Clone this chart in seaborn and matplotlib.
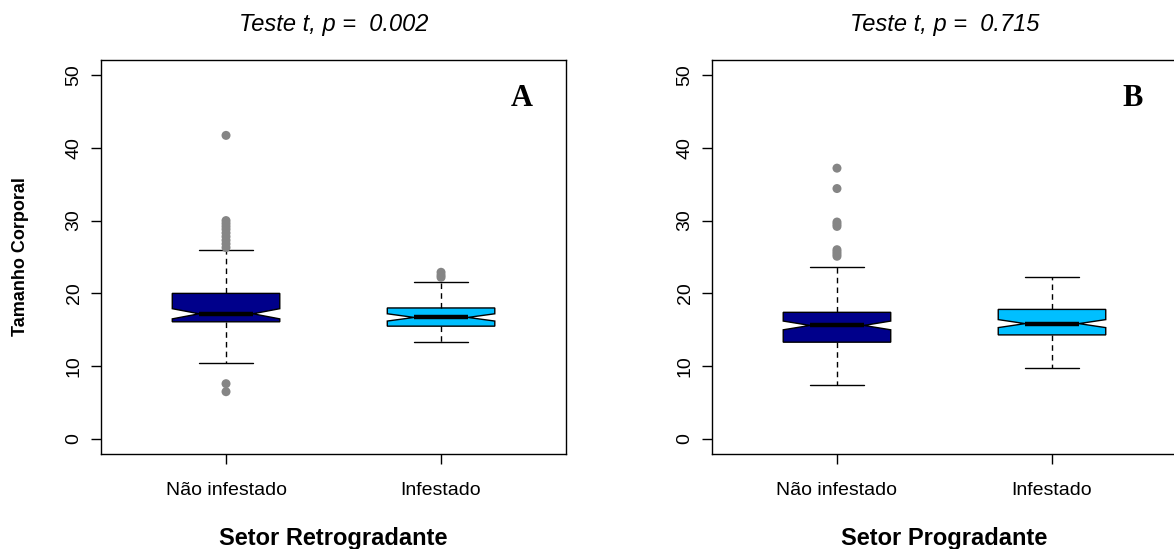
import matplotlib
matplotlib.use("Agg")
import matplotlib.pyplot as plt
import seaborn as sns
import pandas as pd

groups = ["Não infestado", "Infestado"]
box_colors = ["#00008B", "#00BFFF"]

# Setor Retrogradante (painel A)
retro_whislo = [10.5, 13.3]
retro_q1 = [16.1, 15.5]
retro_med = [17.2, 16.7]
retro_q3 = [20.0, 18.0]
retro_whishi = [25.9, 21.6]
retro_cilo = [16.5, 16.2]
retro_cihi = [17.9, 17.2]
retro_out_nao = [41.7, 30.0, 29.6, 29.2, 28.8, 28.3, 27.8, 27.3, 26.8, 26.3, 7.6, 6.5]
retro_out_inf = [22.2, 22.5, 22.9]

# Setor Progradante (painel B)
prog_whislo = [7.4, 9.8]
prog_q1 = [13.3, 14.3]
prog_med = [15.6, 15.85]
prog_q3 = [17.4, 17.8]
prog_whishi = [23.6, 22.3]
prog_cilo = [15.0, 15.3]
prog_cihi = [16.2, 16.4]
prog_out_nao = [37.2, 34.4, 29.8, 29.5, 29.2, 26.0, 25.7, 25.4, 25.1]
prog_out_inf = []

titles = ["Teste t, p =  0.002", "Teste t, p =  0.715"]
xlabels = ["Setor Retrogradante", "Setor Progradante"]
letters = ["A", "B"]

sns.set_theme(style="ticks")
plt.rcParams["font.family"] = ["Liberation Sans", "DejaVu Sans"]
plt.rcParams["text.color"] = "black"
plt.rcParams["axes.labelcolor"] = "black"


def build_stats(whislo, q1, med, q3, whishi, cilo, cihi):
    stats = []
    for i in range(len(groups)):
        stats.append({"whislo": whislo[i], "q1": q1[i], "med": med[i], "q3": q3[i],
                      "whishi": whishi[i], "cilo": cilo[i], "cihi": cihi[i], "fliers": []})
    return stats


def draw_panel(ax, stats, outliers, title, xlabel, letter, ylabel=None):
    bp = ax.bxp(stats, positions=[1, 2], widths=0.5, patch_artist=True,
                shownotches=True, showfliers=False, manage_ticks=False,
                boxprops=dict(edgecolor="black", linewidth=1.0),
                whiskerprops=dict(color="black", linewidth=1.0, linestyle=(0, (4, 3))),
                capprops=dict(color="black", linewidth=1.0),
                medianprops=dict(color="black", linewidth=3.2, solid_capstyle="butt"))
    for patch, c in zip(bp["boxes"], box_colors):
        patch.set_facecolor(c)

    rows = []
    for pos, vals in zip([1, 2], outliers):
        for v in vals:
            rows.append({"pos": pos, "valor": v})
    df = pd.DataFrame(rows)
    sns.scatterplot(data=df, x="pos", y="valor", ax=ax, color="#858585",
                    s=42, edgecolor="none", legend=False, zorder=3)

    ax.set_xlim(0.42, 2.58)
    ax.set_ylim(-2, 52)
    ax.set_xticks([1, 2], groups)
    ax.set_yticks(range(0, 60, 10))
    for lab in ax.get_yticklabels():
        lab.set_rotation(90)
        lab.set_va("center")
    ax.tick_params(axis="both", length=7.5, width=1.0, color="black", labelsize=14,
                   labelcolor="black")
    ax.tick_params(axis="x", pad=13)
    ax.tick_params(axis="y", pad=6)
    for sp in ax.spines.values():
        sp.set_visible(True)
        sp.set_color("black")
        sp.set_linewidth(1.0)

    ax.set_title(title, fontsize=17, style="italic", pad=21, color="black")
    ax.set_xlabel(xlabel, fontsize=17, fontweight="bold", labelpad=20, color="black")
    if ylabel:
        ax.set_ylabel(ylabel, fontsize=13, fontweight="bold", labelpad=26, color="black")
    else:
        ax.set_ylabel("")
    ax.text(2.377, 46.7, letter, fontsize=22, fontweight="bold", color="black",
            family=["Liberation Serif", "DejaVu Serif"], ha="center", va="center")


fig = plt.figure(figsize=(11.74, 5.49), dpi=100)
ax1 = fig.add_axes([0.0863, 0.1738, 0.3956, 0.7162])
ax2 = fig.add_axes([0.6067, 0.1738, 0.3956, 0.7162])

draw_panel(ax1, build_stats(retro_whislo, retro_q1, retro_med, retro_q3, retro_whishi, retro_cilo, retro_cihi),
           [retro_out_nao, retro_out_inf], titles[0], xlabels[0], letters[0], ylabel="Tamanho Corporal")
draw_panel(ax2, build_stats(prog_whislo, prog_q1, prog_med, prog_q3, prog_whishi, prog_cilo, prog_cihi),
           [prog_out_nao, prog_out_inf], titles[1], xlabels[1], letters[1])

fig.savefig("out.png", dpi=100)
